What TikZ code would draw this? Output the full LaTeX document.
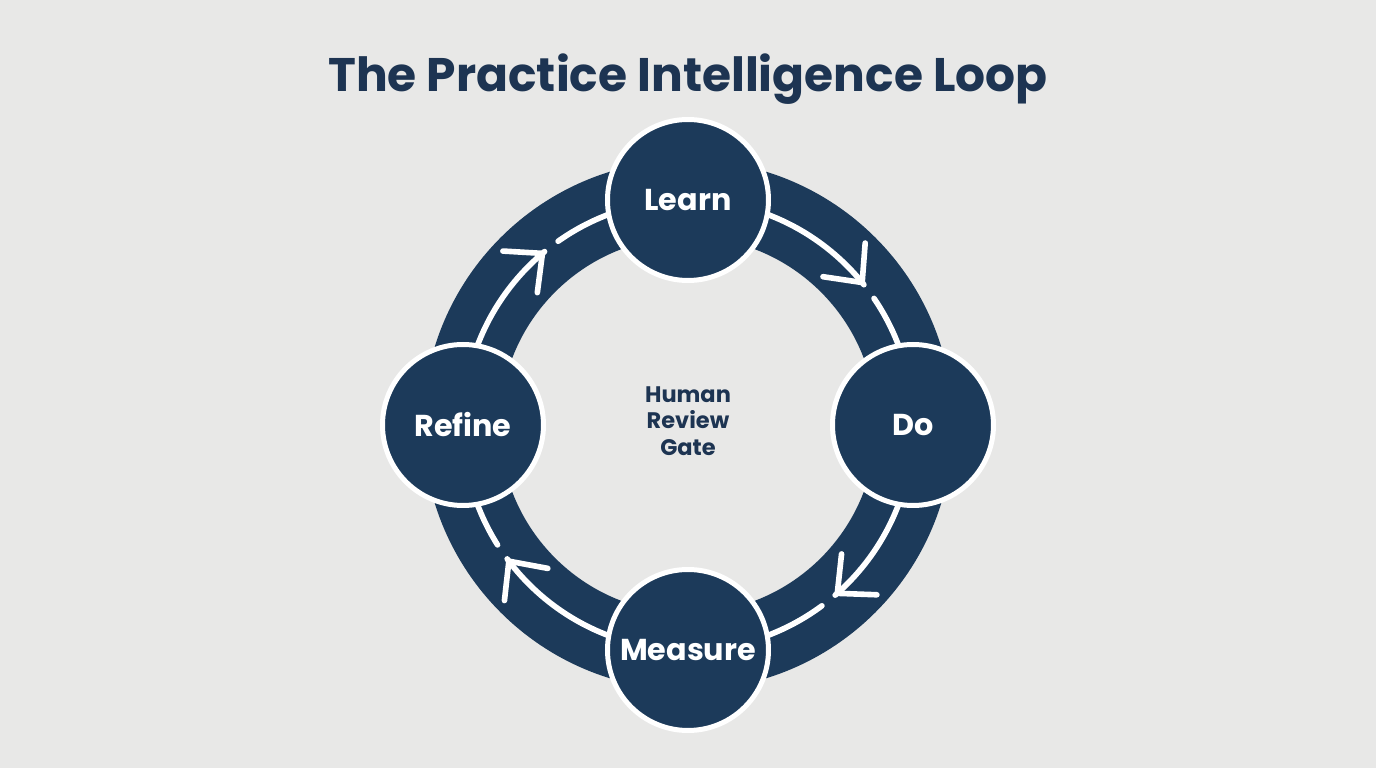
\documentclass[tikz,border=0pt]{standalone}
\usepackage{fontspec}
\setmainfont{Poppins}
\definecolor{loopnavy}{RGB}{28,58,90}
\definecolor{titlenavy}{RGB}{29,52,82}
\definecolor{paper}{RGB}{232,232,231}
\usepackage{tikz}
\usetikzlibrary{arrows.meta,decorations.markings}
\tikzset{
  ringband/.style={loopnavy,line width=7.7mm},
  stagenode/.style={circle,fill=loopnavy,draw=white,line width=0.5mm,
    minimum size=16.1mm,inner sep=0pt,text=white,
    font=\bfseries\fontsize{8.6}{10}\selectfont},
  flowarc/.style={white,line width=1.6pt,line cap=round,
    dash pattern=on #1 off 1.7mm on 8cm,
    decoration={markings,mark=at position #1 with
      {\arrow{Straight Barb[round,length=2.9mm,width=5.4mm]}}},
    postaction={decorate}},
  titletxt/.style={text=titlenavy,font=\bfseries\fontsize{13.4}{16}\selectfont},
  gatetxt/.style={text=titlenavy,align=center,
    font=\bfseries\fontsize{6.4}{7.5}\selectfont},
}
\begin{document}
\begin{tikzpicture}
        \def\R{2.25}
        \fill[paper] (-6.88,-3.43) rectangle (6.88,4.25);
        \node[titletxt,anchor=base] (title) at (0,3.33) {The Practice Intelligence Loop};
        % the ring
        \draw[ringband] (0,0) circle[radius=2.265];
        % stage positions
        \coordinate (learn) at (90:\R);
        \coordinate (do) at (0:\R);
        \coordinate (measure) at (270:\R);
        \coordinate (refine) at (180:\R);
        % arrows along the ring (node ends are covered by the circles)
        \draw[flowarc=2.02cm] (learn) arc[start angle=90,end angle=0,radius=\R];
        \draw[flowarc=1.93cm] (do) arc[start angle=0,end angle=-90,radius=\R];
        \draw[flowarc=2.10cm] (measure) arc[start angle=270,end angle=180,radius=\R];
        \draw[flowarc=1.98cm] (refine) arc[start angle=180,end angle=90,radius=\R];
        % stage circles
        \node[stagenode] (learnc) at (learn) {Learn};
        \node[stagenode] (doc) at (do) {Do};
        \node[stagenode] (measurec) at (measure) {Measure};
        \node[stagenode] (refinec) at (refine) {Refine};
        % centre label
        \node[gatetxt] (gate) at (0,0.04) {Human\\Review\\Gate};
      \end{tikzpicture}
\end{document}
